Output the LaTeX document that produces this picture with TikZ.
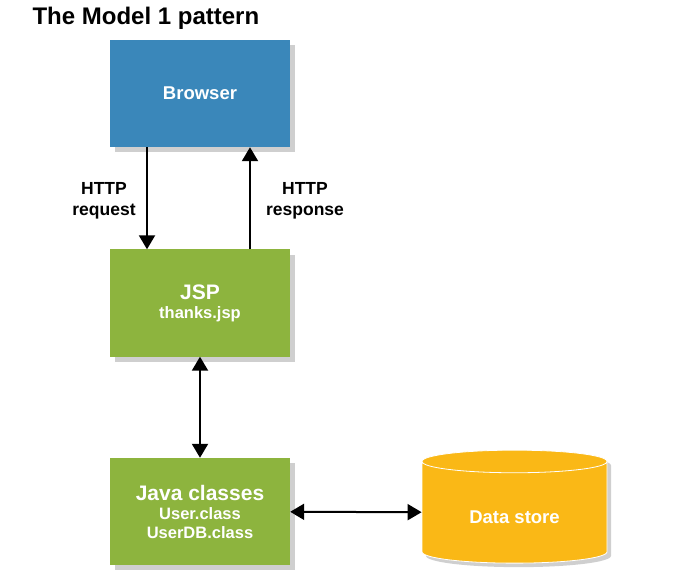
\documentclass[tikz,border=0pt]{standalone}
\usepackage{fontspec}
\setmainfont{Liberation Sans}
\usetikzlibrary{shapes.geometric, arrows.meta, shadows}
\definecolor{browserblue}{RGB}{58,135,186}
\definecolor{jspgreen}{RGB}{141,180,62}
\definecolor{storeyellow}{RGB}{250,184,22}

\begin{document}
\begin{tikzpicture}[
    x=1pt, y=-1pt,
    every node/.style={text=white, align=center},
    box/.style={minimum width=180pt, minimum height=107pt, inner sep=0pt,
        drop shadow={shadow xshift=5pt, shadow yshift=-5pt, fill=gray!75}},
    small/.style={font=\bfseries\fontsize{16.5}{20}\selectfont},
    label/.style={text=black, font=\bfseries\fontsize{17.5}{21}\selectfont},
    arrow/.style={line width=2pt, -{Triangle[width=16pt,length=14pt]}},
    both/.style={line width=2pt, {Triangle[width=16pt,length=14pt]}-{Triangle[width=16pt,length=14pt]}}
]
\useasboundingbox (0,0) rectangle (674,577);

% Title
\node (title) [anchor=west, text=black, font=\bfseries\fontsize{24}{28}\selectfont] at (29,18) {The Model 1 pattern};

% Nodes
\node (browser) [box, fill=browserblue, font=\bfseries\fontsize{18.5}{22}\selectfont] at (200,93.5) {\raisebox{-6.5pt}[0pt][0pt]{Browser}};
\node (jsp) [box, small, fill=jspgreen] at (200,303) {{\fontsize{21}{23}\selectfont JSP}\\[-1pt]thanks.jsp};
\node (java) [box, small, fill=jspgreen] at (200,511.5) {{\fontsize{21}{22}\selectfont Java classes}\\[-1pt]User.class\\[-1pt]UserDB.class};
\node (store) [cylinder, shape border rotate=90, aspect=0.25, minimum width=185pt, minimum height=113pt,
    fill=storeyellow, draw=white, line width=0.8pt, inner sep=0pt,
    drop shadow={shadow xshift=4pt, shadow yshift=-4pt, fill=gray!75},
    font=\bfseries\fontsize{18.5}{22}\selectfont] at (514.5,512.5) {\raisebox{-10.5pt}[0pt][0pt]{Data store}};

% Labels
\node (req) [label] at (104,201) {HTTP\\request};
\node (resp) [label] at (305,201) {HTTP\\response};

% Arrows
\draw [arrow] (browser.south -| 147,0) -- (jsp.north -| 147,0);
\draw [arrow] (jsp.north -| 250,0) -- (browser.south -| 250,0);
\draw [both] (jsp) -- (java);
\draw [both] (java) -- (store);

\end{tikzpicture}
\end{document}
